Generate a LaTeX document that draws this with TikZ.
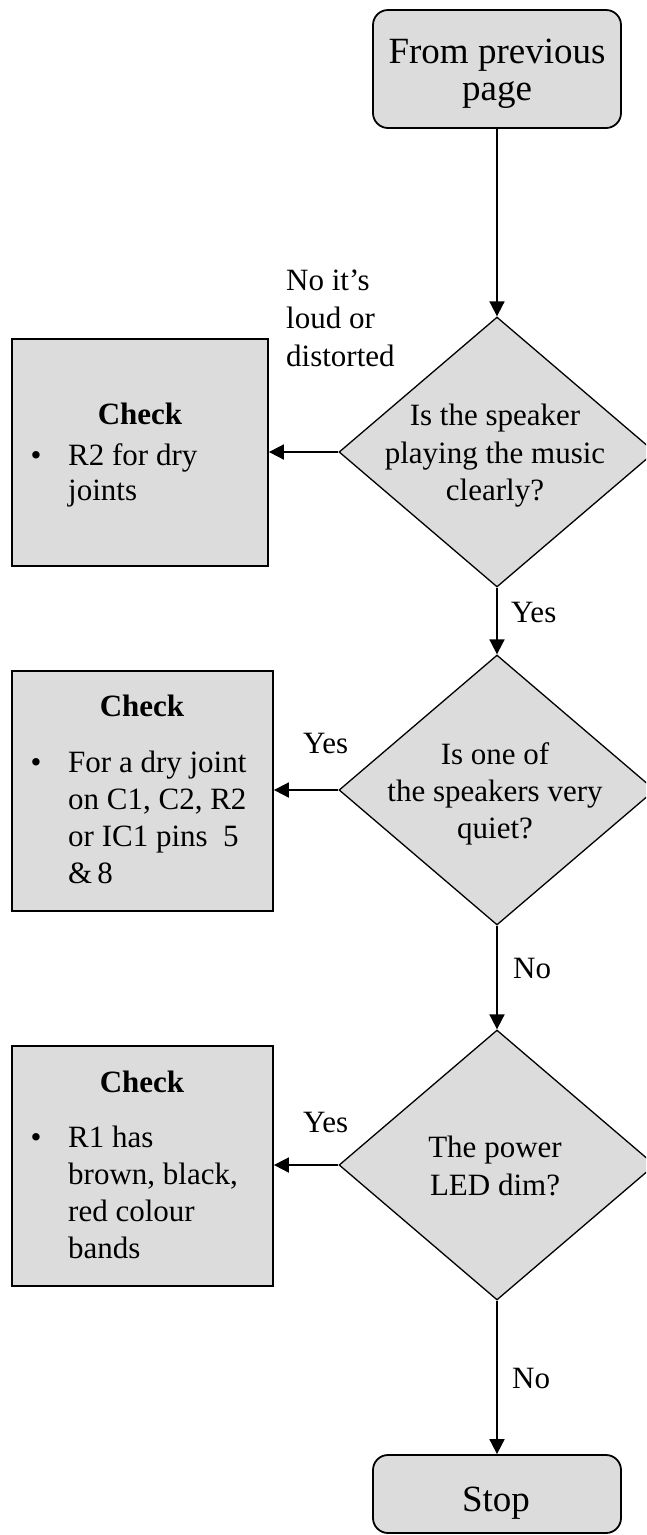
\documentclass[tikz,border=0pt]{standalone}
\usepackage{fontspec}
\setmainfont{Liberation Serif}
\usetikzlibrary{shapes.geometric,arrows.meta}
\definecolor{boxgray}{RGB}{220,220,220}
\begin{document}
\begin{tikzpicture}[x=1pt,y=-1pt,
  term/.style={draw=black, line width=1.8pt, fill=boxgray, rounded corners=15pt, inner sep=0pt, minimum width=248pt},
  checkbox/.style={draw=black, line width=1.8pt, fill=boxgray, inner sep=0pt},
  decision/.style={draw=black, line width=1.3pt, fill=boxgray, diamond, inner sep=0pt, minimum width=316pt, minimum height=270pt},
  txt/.style={inner sep=0pt, font=\fontsize{31}{37}\selectfont},
  bigtxt/.style={inner sep=0pt, font=\fontsize{37}{37}\selectfont},
  arr/.style={line width=1.8pt, -{Triangle[length=15pt,width=15pt]}},
]
\clip (0,0) rectangle (646,1535);
\fill[white] (0,0) rectangle (646,1535);

% shapes
\node[term, minimum height=118pt] (start) at (497,69) {};
\node[decision] (d1) at (497,452) {};
\node[decision] (d2) at (497,790) {};
\node[decision] (d3) at (497,1165) {};
\node[term, minimum height=78pt] (stop) at (497,1494) {};
\node[checkbox, minimum width=256pt, minimum height=227pt] (box1) at (140,452.5) {};
\node[checkbox, minimum width=261pt, minimum height=240pt] (box2) at (142.5,791) {};
\node[checkbox, minimum width=261pt, minimum height=240pt] (box3) at (142.5,1166) {};

% connectors
\draw[arr] (start) -- (d1);
\draw[arr] (d1) -- (d2);
\draw[arr] (d2) -- (d3);
\draw[arr] (d3) -- (stop);
\draw[arr] (d1.west) -- (d1.west -| box1.east);
\draw[arr] (d2.west) -- (d2.west -| box2.east);
\draw[arr] (d3.west) -- (d3.west -| box3.east);

% terminal texts
\node[bigtxt, anchor=base] (t1a) at (497,63) {From previous};
\node[bigtxt, anchor=base] (t1b) at (497,100) {page};
\node[bigtxt, anchor=base] (t2) at (496,1511) {Stop};

% decision texts
\node[txt, anchor=base] (q1a) at (495,425) {Is the speaker};
\node[txt, anchor=base] (q1b) at (495,463) {playing the music};
\node[txt, anchor=base] (q1c) at (495,500) {clearly?};
\node[txt, anchor=base] (q2a) at (495,764) {Is one of};
\node[txt, anchor=base] (q2b) at (495,801) {the speakers very};
\node[txt, anchor=base] (q2c) at (495,838) {quiet?};
\node[txt, anchor=base] (q3a) at (495,1157) {The power};
\node[txt, anchor=base] (q3b) at (495,1195) {LED dim?};

% connector labels
\node[txt, anchor=base west] (l1a) at (286,290) {No it’s};
\node[txt, anchor=base west] (l1b) at (286,328) {loud or};
\node[txt, anchor=base west] (l1c) at (286,366) {distorted};
\node[txt, anchor=base west] (l2) at (511,622) {Yes};
\node[txt, anchor=base west] (l3) at (303,753) {Yes};
\node[txt, anchor=base west] (l4) at (513,978) {No};
\node[txt, anchor=base west] (l5) at (303,1132) {Yes};
\node[txt, anchor=base west] (l6) at (512,1388) {No};

% check box 1
\node[txt, anchor=base] (c1h) at (140,424) {\bfseries Check};
\node[txt, anchor=base] (c1b) at (36,465) {\textbullet};
\node[txt, anchor=base west] (c1a) at (68,465) {R2 for dry};
\node[txt, anchor=base west] (c1c) at (68,500) {joints};

% check box 2
\node[txt, anchor=base] (c2h) at (142,716) {\bfseries Check};
\node[txt, anchor=base] (c2b) at (36,772) {\textbullet};
\node[txt, anchor=base west] (c2a) at (68,772) {For a dry joint};
\node[txt, anchor=base west] (c2c) at (68,809) {on C1, C2, R2};
\node[txt, anchor=base west] (c2d) at (68,846) {or IC1 pins\ \ 5};
\node[txt, anchor=base west] (c2e) at (68,883) {\&\,8};

% check box 3
\node[txt, anchor=base] (c3h) at (142,1092) {\bfseries Check};
\node[txt, anchor=base] (c3b) at (36,1147) {\textbullet};
\node[txt, anchor=base west] (c3a) at (68,1147) {R1 has};
\node[txt, anchor=base west] (c3c) at (68,1184) {brown, black,};
\node[txt, anchor=base west] (c3d) at (68,1221) {red colour};
\node[txt, anchor=base west] (c3e) at (68,1258) {bands};
\end{tikzpicture}
\end{document}
